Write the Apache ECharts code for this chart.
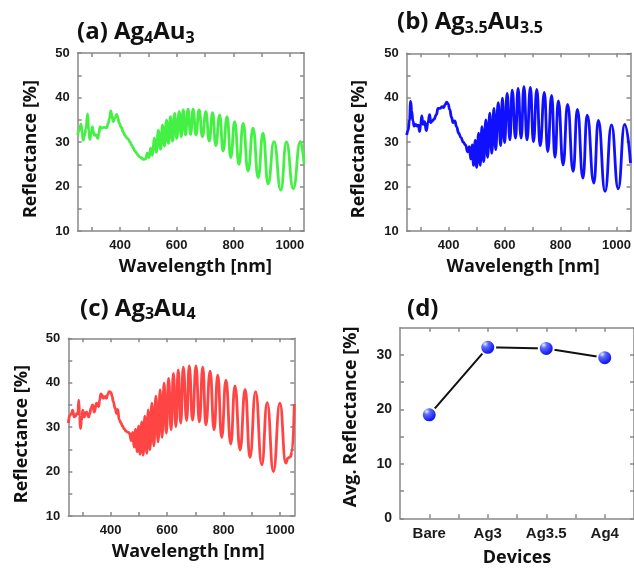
<!DOCTYPE html>
<html>
<head>
  <meta charset="utf-8">
  <title>Reflectance of Ag/Au devices</title>
  <script src="https://cdn.jsdelivr.net/npm/echarts@6.0.0/dist/echarts.min.js"></script>
  <style>html, body { margin: 0; padding: 0; background: #fff; }</style>
</head>
<body>
  <div id="main" style="width: 634px; height: 572px;"></div>

  <script>
    // (a) Ag4Au3 : wavelength [nm] / reflectance [%], peaks and troughs
    var wlA = [250, 256, 262, 266, 269, 274, 279, 285, 289, 293, 297, 302, 306, 309, 315, 321, 325, 329, 335, 343,
      352, 358, 362, 367, 371, 376, 382, 388, 392, 396, 405, 411, 417, 423, 429, 435, 441, 447, 452, 458,
      464, 470, 476, 482, 490, 496, 502, 508, 514, 521, 528, 535, 543, 550, 557, 564, 571, 578, 585, 593,
      600, 609, 616, 623, 631, 640, 649, 658, 668, 679, 691, 703, 715, 727, 738, 752, 764, 778, 791, 805,
      820, 835, 852, 870, 888, 905, 923, 944, 968, 988, 1012, 1037, 1050];
    var rA = [31.6, 32.8, 34.0, 32.0, 30.4, 31.5, 33.0, 36.3, 32.5, 30.6, 31.8, 33.4, 32.2, 31.5, 31.6, 30.8, 32.0, 33.4, 33.1, 33.3,
      33.2, 34.2, 35.2, 37.0, 35.8, 34.6, 35.5, 36.2, 35.5, 34.3, 33.2, 32.2, 31.5, 31.0, 30.6, 30.0, 29.3, 28.6, 28.0, 27.5,
      27.0, 26.6, 26.4, 26.1, 26.2, 27.5, 26.5, 28.6, 27.0, 30.9, 27.7, 32.6, 28.4, 33.8, 29.1, 34.9, 29.7, 35.7, 30.2, 36.4,
      30.8, 36.8, 31.2, 37.2, 31.6, 37.4, 31.7, 37.4, 31.6, 37.2, 31.2, 36.8, 30.2, 36.6, 29.2, 36.1, 28.0, 35.7, 26.5, 34.6,
      25.0, 34.2, 23.5, 33.1, 22.0, 32.0, 20.6, 30.1, 19.2, 30.0, 19.5, 30.1, 25.2];

    // (b) Ag3.5Au3.5
    var wlB = [250, 255, 260, 264, 268, 272, 277, 282, 287, 292, 296, 300, 304, 308, 314, 320, 326, 332, 336, 342,
      348, 356, 362, 370, 376, 382, 388, 393, 398, 404, 410, 416, 422, 428, 436, 444, 452, 460, 468, 474,
      479, 484, 489, 495, 500, 507, 513, 519, 525, 533, 539, 547, 554, 562, 568, 577, 586, 592, 600, 609,
      619, 627, 639, 648, 659, 669, 680, 692, 703, 715, 727, 742, 754, 768, 780, 792, 809, 825, 845, 860,
      880, 895, 919, 935, 959, 982, 1006, 1029, 1050];
    var rB = [31.6, 32.6, 35.0, 39.2, 37.0, 34.8, 33.6, 34.0, 33.6, 33.8, 32.4, 34.0, 35.9, 34.0, 34.6, 32.6, 34.4, 36.2, 34.4, 34.8,
      35.2, 36.2, 37.6, 37.6, 38.0, 37.8, 38.5, 39.0, 38.6, 37.3, 35.6, 34.4, 34.8, 33.5, 32.0, 31.0, 30.0, 29.4, 27.8, 29.0,
      26.2, 29.4, 24.8, 30.4, 24.3, 32.0, 24.8, 33.5, 25.6, 35.0, 26.6, 36.5, 27.5, 37.6, 28.3, 38.9, 29.2, 39.9, 29.9, 41.0,
      30.5, 41.7, 30.9, 42.1, 30.9, 42.5, 30.5, 42.3, 30.1, 41.9, 29.2, 41.2, 27.9, 40.5, 26.6, 39.3, 24.9, 38.5, 23.4, 37.4,
      21.9, 36.1, 20.8, 34.9, 18.9, 33.9, 19.5, 34.0, 25.3];

    // (c) Ag3Au4
    var wlC = [250, 256, 261, 265, 271, 276, 280, 284, 287, 290, 293, 297, 301, 307, 311, 315, 322, 326, 330, 336,
      342, 350, 357, 361, 365, 370, 374, 381, 385, 390, 395, 401, 405, 409, 416, 421, 425, 430, 436, 442,
      448, 454, 460, 466, 473, 478, 483, 488, 494, 499, 504, 510, 515, 521, 528, 533, 539, 546, 553, 560,
      568, 575, 582, 589, 597, 605, 614, 622, 631, 639, 648, 657, 669, 678, 690, 702, 714, 726, 737, 752,
      766, 779, 793, 808, 825, 840, 858, 876, 893, 913, 935, 954, 976, 999, 1020, 1027, 1036, 1042, 1050];
    var rC = [30.9, 32.7, 33.0, 33.8, 32.3, 32.5, 33.1, 33.0, 36.1, 32.5, 29.7, 31.5, 33.8, 32.3, 33.2, 33.4, 32.3, 33.0, 34.2, 35.0,
      33.4, 35.4, 34.6, 36.0, 37.5, 37.2, 36.5, 36.9, 36.5, 37.4, 38.0, 37.8, 37.0, 35.8, 34.2, 33.1, 34.0, 31.7, 31.0, 30.2,
      29.6, 29.1, 28.9, 28.7, 27.0, 28.8, 25.5, 29.5, 24.5, 30.2, 23.9, 31.2, 23.7, 32.5, 24.1, 33.9, 24.9, 35.4, 25.8, 37.0,
      26.7, 38.4, 27.7, 39.9, 28.6, 41.0, 29.4, 42.1, 30.1, 42.9, 30.9, 43.5, 31.5, 43.8, 31.6, 43.8, 31.2, 43.5, 30.5, 42.6,
      29.4, 41.7, 27.7, 40.6, 26.2, 39.3, 24.9, 38.5, 23.2, 38.0, 21.5, 35.5, 20.0, 35.4, 21.9, 23.0, 23.3, 24.5, 35.2];

    // (d) average reflectance per device
    var devices = ['Bare', 'Ag3', 'Ag3.5', 'Ag4'];
    var avgR = [19.0, 31.4, 31.2, 29.5];

    // tick marks / labels
    var wlTicks = [300, 400, 500, 600, 700, 800, 900, 1000];
    var wlLabels = [400, 600, 800, 1000];
    var rTicks = [10, 15, 20, 25, 30, 35, 40, 45, 50];
    var rLabels = [10, 20, 30, 40, 50];
    var avgTicks = [0, 5, 10, 15, 20, 25, 30];
    var avgLabels = [0, 10, 20, 30];
    var devTicks = [1, 1.5, 2, 2.5, 3, 3.5, 4];
    var devLabels = [1, 2, 3, 4];

    document.addEventListener("DOMContentLoaded", function () {
      var myChart = echarts.init(document.getElementById('main'));

      var tickFont = 'Arial, "Liberation Sans", sans-serif';
      var nameFont = '"Open Sans", "DejaVu Sans", sans-serif';
      var frameLine = { color: '#888', width: 1.5 };

      function pairs(xs, ys) {
        return xs.map(function (x, i) { return [x, ys[i]]; });
      }

      var grids = [
        { left: 77.7, top: 53, width: 226.3, height: 178 },
        { left: 406.7, top: 53.3, width: 226.3, height: 177.7 },
        { left: 68.3, top: 338.3, width: 226, height: 177.7 },
        { left: 400, top: 327.7, width: 237, height: 190.6 }
      ];

      var xAxes = [], yAxes = [];

      // one boxed axis pair per grid: labelled bottom/left, mirrored top/right
      function addAxes(g, xo, yo) {
        var base = { gridIndex: g, type: 'value', splitLine: { show: false },
          axisLine: { show: true, onZero: false, lineStyle: frameLine } };
        var lab = { fontWeight: 'bold', fontFamily: tickFont, color: '#1a1a1a', margin: 8 };
        var nm = { fontSize: 18, fontWeight: 'bold', fontFamily: nameFont, color: '#111' };

        xAxes.push(Object.assign({}, base, {
          position: 'bottom', min: xo.min, max: xo.max,
          axisTick: { inside: true, length: 4, customValues: xo.ticks, lineStyle: frameLine },
          axisLabel: Object.assign({}, lab, { fontSize: xo.fs, margin: xo.margin,
            customValues: xo.labels, formatter: xo.fmt }),
          name: xo.name, nameLocation: 'middle', nameGap: xo.gap,
          nameTextStyle: Object.assign({}, nm, { padding: xo.pad })
        }));
        xAxes.push(Object.assign({}, base, {
          position: 'top', min: xo.min, max: xo.max,
          axisTick: { inside: true, length: 4, customValues: xo.ticks, lineStyle: frameLine },
          axisLabel: { show: false }
        }));
        yAxes.push(Object.assign({}, base, {
          position: 'left', min: yo.min, max: yo.max,
          axisTick: { inside: true, length: 4, customValues: yo.ticks, lineStyle: frameLine },
          axisLabel: Object.assign({}, lab, { fontSize: yo.fs, customValues: yo.labels }),
          name: yo.name, nameLocation: 'middle', nameGap: yo.gap, nameRotate: 90,
          nameTextStyle: Object.assign({}, nm, { padding: yo.pad })
        }));
        yAxes.push(Object.assign({}, base, {
          position: 'right', min: yo.min, max: yo.max,
          axisTick: { inside: true, length: 4, customValues: yo.ticks, lineStyle: frameLine },
          axisLabel: { show: false }
        }));
      }

      var wlX = { min: 250, max: 1050, ticks: wlTicks, labels: wlLabels, name: 'Wavelength [nm]',
        fs: 13, margin: 8, gap: 27, pad: [0, 0, 0, 9], fmt: function (v) { return String(v); } };
      var rY = { min: 10, max: 50, ticks: rTicks, labels: rLabels, name: 'Reflectance [%]',
        fs: 13, gap: 38, pad: [0, 14, 0, 0] };
      addAxes(0, wlX, rY);
      addAxes(1, wlX, Object.assign({}, rY, { gap: 39 }));
      addAxes(2, Object.assign({}, wlX, { pad: [0, 0, 0, 14] }), Object.assign({}, rY, { gap: 37 }));
      addAxes(3,
        { min: 0.5, max: 4.5, ticks: devTicks, labels: devLabels, name: 'Devices', fs: 15, margin: 8,
          gap: 31, pad: [0, 0, 0, 0], fmt: function (v) { return devices[Math.round(v) - 1]; } },
        { min: 0, max: 35, ticks: avgTicks, labels: avgLabels, name: 'Avg. Reflectance [%]',
          fs: 14, gap: 40, pad: [0, 0, 0, 12] });

      function spectrum(g, xs, ys, color) {
        return {
          type: 'line', xAxisIndex: 2 * g, yAxisIndex: 2 * g,
          data: pairs(xs, ys), showSymbol: false, smooth: true, smoothMonotone: 'x',
          lineStyle: { color: color, width: 2.8 }
        };
      }

      var sphere = new echarts.graphic.RadialGradient(0.35, 0.3, 0.75, [
        { offset: 0, color: '#eef0ff' },
        { offset: 0.25, color: '#5c6cff' },
        { offset: 0.7, color: '#1a22f0' },
        { offset: 1, color: '#0a0aa0' }
      ]);

      var titleRich = { s: { fontSize: 16, fontWeight: 'bold', fontFamily: nameFont, color: '#111',
        verticalAlign: 'bottom', lineHeight: 16 } };
      function title(text, left, top) {
        return { text: text, left: left, top: top, padding: 0,
          textStyle: { fontSize: 24, fontWeight: 'bold', fontFamily: nameFont, color: '#111', lineHeight: 28, rich: titleRich } };
      }

      var option = {
        animation: false,
        backgroundColor: '#fff',
        title: [
          title('(a) Ag{s|4}Au{s|3}', 77, 18.3),
          title('(b) Ag{s|3.5}Au{s|3.5}', 397, 8.3),
          title('(c) Ag{s|3}Au{s|4}', 80, 294.8),
          title('(d)', 407, 294.8)
        ],
        grid: grids,
        xAxis: xAxes,
        yAxis: yAxes,
        series: [
          spectrum(0, wlA, rA, '#45f045'),
          spectrum(1, wlB, rB, '#1010ff'),
          spectrum(2, wlC, rC, '#ff4444'),
          {
            type: 'line', xAxisIndex: 6, yAxisIndex: 6,
            data: pairs(devLabels, avgR),
            symbol: 'circle', symbolSize: 15,
            lineStyle: { color: '#111', width: 2 },
            itemStyle: { color: sphere, borderColor: '#fff', borderWidth: 2 }
          }
        ]
      };

      option && myChart.setOption(option);
    });
  </script>
</body>
</html>
